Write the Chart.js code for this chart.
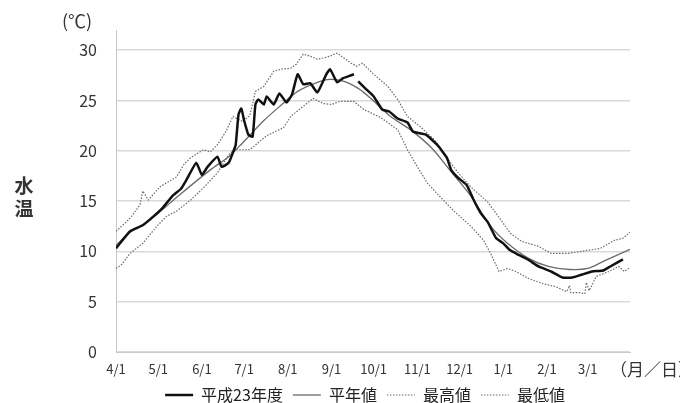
<!DOCTYPE html>
<html><head><meta charset="utf-8">
<script src="https://cdn.jsdelivr.net/npm/chart.js@4/dist/chart.umd.min.js"></script>
<style>html,body{margin:0;padding:0;background:#fff;}canvas{display:block;}</style>
</head><body>
<canvas id="c" width="680" height="403"></canvas>
<script>
// x = days since 4/1
const monthDays   = [0, 30, 61, 91, 122, 153, 183, 214, 244, 275, 306, 335];
const monthLabels = ['4/1','5/1','6/1','7/1','8/1','9/1','10/1','11/1','12/1','1/1','2/1','3/1'];
const yTicks = [0, 5, 10, 15, 20, 25, 30];

const obsDays = [0,10,19,26,33,40,46,50,57,61,65,72,75,80,83,85,87,89,91,94,97,99,101,105,107,112,116,121,125,129,133,138,143,149,152,157,161,167,169,170,172,177,183,189,194,200,207,211,220,228,235,238,243,249,254,259,264,270,275,280,286,293,300,309,317,324,331,338,346,351,360];
const obsTemp = [10.3,12.0,12.6,13.4,14.3,15.5,16.2,17.1,18.8,17.6,18.4,19.4,18.4,18.8,19.8,20.6,23.6,24.2,23.0,21.6,21.4,24.6,25.1,24.6,25.4,24.6,25.7,24.8,25.6,27.6,26.6,26.7,25.8,27.5,28.1,26.8,27.2,27.5,27.6,null,26.9,26.2,25.4,24.1,23.9,23.2,22.8,21.9,21.6,20.6,19.3,18.1,17.3,16.6,15.1,13.8,12.9,11.3,10.8,10.1,9.65,9.15,8.5,8.0,7.4,7.4,7.7,8.0,8.1,8.5,9.2];

const normDays = [0,10,24,45,67,80,90,105,117,129,143,152,162,172,181,195,209,224,238,252,266,278,293,307,322,335,346,365];
const normTemp = [10.6,11.9,13.1,15.6,18.1,19.4,20.8,23.0,24.5,25.9,26.8,27.1,26.9,26.2,25.2,23.4,22.1,20.3,17.9,15.5,12.5,10.8,9.3,8.5,8.2,8.3,9.0,10.2];

const maxDays = [0,4,10,17,19,23,31,37,43,48,53,62,67,72,78,83,90,95,99,105,112,117,124,128,133,138,143,150,157,162,167,171,175,183,193,200,207,216,226,236,243,252,264,275,280,288,300,309,321,335,344,354,360,365];
const maxTemp = [12.0,12.5,13.3,14.6,16.0,15.1,16.4,16.9,17.4,18.6,19.3,20.1,19.9,20.6,21.9,23.4,22.9,23.5,25.9,26.4,27.9,28.1,28.2,28.6,29.6,29.4,29.1,29.3,29.7,29.2,28.7,28.4,28.7,27.6,26.4,25.1,23.4,22.4,21.1,19.1,17.8,16.4,14.9,12.8,11.8,11.0,10.5,9.8,9.8,10.1,10.3,11.1,11.3,11.9];

const minDays = [0,4,10,19,29,36,43,53,62,72,81,86,95,107,119,124,131,140,147,153,159,169,176,188,193,200,207,214,221,231,240,252,261,266,272,278,284,293,303,312,320,322,323,329,333,334,336,341,350,357,361,365];
const minTemp = [8.3,8.7,9.8,10.8,12.5,13.5,14.0,15.1,16.3,17.8,19.8,20.1,20.1,21.5,22.3,23.4,24.2,25.2,24.7,24.6,24.9,24.9,24.1,23.3,22.8,22.1,20.1,18.4,16.8,15.3,14.0,12.5,11.1,9.8,8.0,8.3,8.0,7.3,6.8,6.5,6.0,6.6,5.9,5.9,5.8,6.9,6.1,7.5,8.0,8.5,8.0,8.4];

const seriesNames = ['平成23年度','平年値','最高値','最低値'];

const pts = (xs, ys) => xs.map((x, i) => ({x: x, y: ys[i]}));
const JP = "'Noto Sans CJK JP', 'Noto Sans', sans-serif";

const extraText = {
  id: 'extraText',
  afterLayout(chart) {
    const lg = chart.legend;
    if (lg) { lg.left += 50; lg.right += 50; }
  },
  afterDraw(chart) {
    const ctx = chart.ctx;
    ctx.save();
    ctx.fillStyle = '#333';
    ctx.textBaseline = 'middle';
    ctx.textAlign = 'left';
    ctx.font = '18px ' + JP;
    ctx.fillText('(℃)', 62, 21);
    ctx.font = 'bold 19px ' + JP;
    ctx.textAlign = 'center';
    ctx.fillText('水', 24, 186);
    ctx.fillText('温', 24, 209);
    ctx.font = '17px ' + JP;
    ctx.textAlign = 'left';
    ctx.fillText('（月／日）', 610, 370);
    ctx.restore();
  }
};

new Chart(document.getElementById('c'), {
  type: 'line',
  data: {
    datasets: [
      {label: seriesNames[0], data: pts(obsDays, obsTemp), borderColor: '#111', backgroundColor: '#111', borderWidth: 2.5, pointRadius: 0, tension: 0.15, spanGaps: false, borderJoinStyle: 'round', order: 0},
      {label: seriesNames[1], data: pts(normDays, normTemp), borderColor: '#6a6a6a', backgroundColor: '#6a6a6a', borderWidth: 1.3, pointRadius: 0, tension: 0.3, order: 1},
      {label: seriesNames[2], data: pts(maxDays, maxTemp), borderColor: '#6a6a6a', backgroundColor: '#6a6a6a', borderWidth: 1.2, borderDash: [1.5, 1.5], pointRadius: 0, tension: 0, order: 2},
      {label: seriesNames[3], data: pts(minDays, minTemp), borderColor: '#6a6a6a', backgroundColor: '#6a6a6a', borderWidth: 1.2, borderDash: [1.5, 1.5], pointRadius: 0, tension: 0, order: 3}
    ]
  },
  options: {
    responsive: false,
    devicePixelRatio: 1,
    animation: false,
    layout: {padding: {left: 0, right: 50, top: 30, bottom: -10}},
    scales: {
      x: {
        type: 'linear', min: 0, max: 365,
        grid: {display: false, drawTicks: false},
        border: {display: true, color: '#c8c8c8', width: 1},
        afterBuildTicks: s => { s.ticks = monthDays.map(v => ({value: v})); },
        afterFit: s => { s.height = 25; },
        ticks: {
          autoSkip: false, maxRotation: 0, padding: 9,
          color: '#333', font: {size: 13, family: JP},
          callback: (v) => { const i = monthDays.indexOf(v); return i >= 0 ? monthLabels[i] : ''; }
        }
      },
      y: {
        min: 0, max: 32,
        afterBuildTicks: s => { s.ticks = yTicks.map(v => ({value: v})); },
        afterFit: s => { s.width = 116; },
        grid: {color: '#d9d9d9', lineWidth: 1.5, drawTicks: false},
        border: {display: true, color: '#c8c8c8', width: 1},
        ticks: {padding: 19, color: '#333', font: {size: 16, family: JP}}
      }
    },
    plugins: {
      legend: {
        position: 'bottom',
        labels: {
          usePointStyle: true, pointStyle: 'line', pointStyleWidth: 28,
          boxHeight: 16, padding: 10, color: '#222',
          font: {size: 16, family: JP},
          generateLabels: (chart) => {
            const items = Chart.defaults.plugins.legend.labels.generateLabels(chart);
            items.forEach((it, i) => {
              const ds = chart.data.datasets[i];
              it.lineDash = ds.borderDash || [];
              it.lineWidth = ds.borderWidth;
              it.strokeStyle = ds.borderColor;
              it.pointStyle = 'line';
            });
            return items;
          }
        }
      },
      tooltip: {enabled: false}
    }
  },
  plugins: [extraText]
});
</script>
</body></html>
